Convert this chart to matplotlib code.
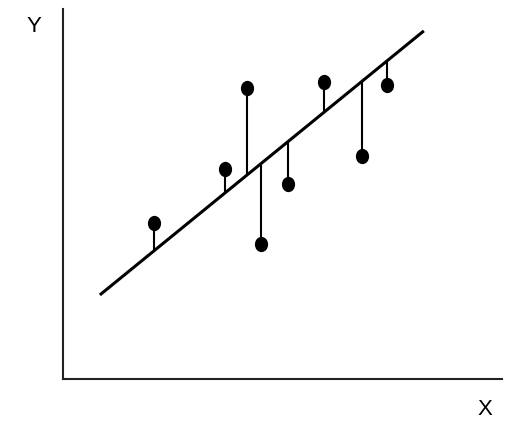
import matplotlib
matplotlib.use("Agg")
import matplotlib.pyplot as plt
import numpy as np
from matplotlib.path import Path

# observed points
x_pts = [2.07, 3.69, 4.19, 4.51, 5.13, 5.95, 6.81, 7.38]
y_pts = [4.22, 5.68, 7.86, 3.65, 5.27, 8.03, 6.03, 7.95]

# fitted line
slope = 0.967
intercept = 1.46
line_x = [0.84, 8.22]

W, H = 510, 435
fig = plt.figure(figsize=(W / 100, H / 100), dpi=100)
ax = fig.add_axes([63 / W, (H - 380) / H, (502 - 63) / W, (380 - 10) / H])
ax.set_xlim(0, 10)
ax.set_ylim(0, 10)

for s in ["top", "right"]:
    ax.spines[s].set_visible(False)
for s in ["left", "bottom"]:
    ax.spines[s].set_linewidth(1.5)
    ax.spines[s].set_color("#222222")
ax.set_xticks([])
ax.set_yticks([])

lx = np.array(line_x)
ax.plot(lx, slope * lx + intercept, color="black", lw=2.2, solid_capstyle="butt")

fitted = [slope * x + intercept for x in x_pts]
ax.vlines(x_pts, fitted, y_pts, color="black", lw=1.5)

circ = Path.unit_circle()
ell = Path(circ.vertices * np.array([0.85, 1.0]), circ.codes)
ax.plot(x_pts, y_pts, ls="none", marker=ell, ms=10, color="black")

fig.text(34 / W, 1 - 26 / H, "Y", ha="center", va="center", fontsize=16,
         family="Liberation Sans")
fig.text(485 / W, 1 - 410 / H, "X", ha="center", va="center", fontsize=16,
         family="Liberation Sans")

fig.savefig("out.png", dpi=100)
